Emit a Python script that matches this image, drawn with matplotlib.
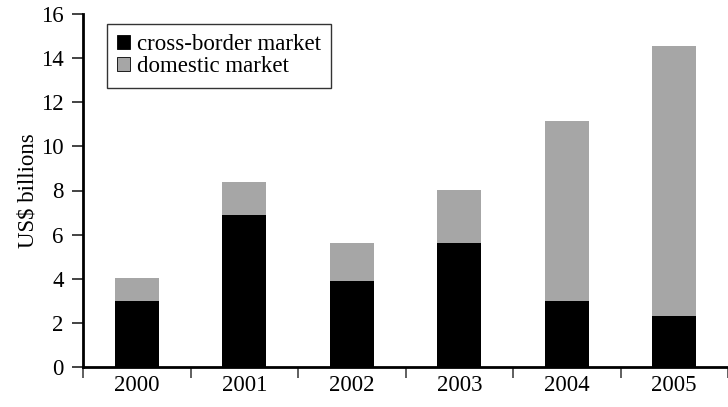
import matplotlib
matplotlib.use("Agg")
import matplotlib.pyplot as plt
import numpy as np

years = ["2000", "2001", "2002", "2003", "2004", "2005"]
cross_border = [3.0, 6.9, 3.9, 5.6, 3.0, 2.3]
domestic = [1.05, 1.5, 1.7, 2.4, 8.15, 12.25]
yticks = [0, 2, 4, 6, 8, 10, 12, 14, 16]

plt.rcParams['font.family'] = ['Liberation Serif', 'DejaVu Serif']
FS = 16.5

fig = plt.figure(figsize=(7.28, 4.07), dpi=100)
W, H = 728, 407
left, right, top, bottom = 83, 728, 14, 367
ax = fig.add_axes([left / W, (H - bottom) / H, (right - left) / W, (bottom - top) / H])

x = np.arange(len(years))
bw = 0.41
ax.bar(x, cross_border, width=bw, color="black", label="cross-border market", edgecolor="none")
ax.bar(x, domestic, width=bw, bottom=cross_border, color="#a6a6a6", label="domestic market", edgecolor="none")

unit_px = 108.3
ax.set_xlim(-0.5, -0.5 + (right - left) / unit_px)
ax.set_ylim(0, 16)

for s in ["top", "right"]:
    ax.spines[s].set_visible(False)
for s in ["left", "bottom"]:
    ax.spines[s].set_linewidth(2)
    ax.spines[s].set_color("black")

ax.set_yticks(yticks)
ax.set_yticklabels([str(v) for v in yticks], fontsize=FS)
ax.tick_params(axis="y", direction="out", length=8, width=1.2, color="#222222", pad=6)

ax.set_xticks(np.arange(-0.5, len(years) - 0.5 + 0.01, 1.0))
ax.set_xticklabels([])
ax.tick_params(axis="x", which="major", direction="out", length=8, width=1.2, color="#444444")
ax.set_xticks(x, minor=True)
ax.set_xticklabels(years, minor=True, fontsize=FS)
ax.tick_params(axis="x", which="minor", length=0, pad=6)

ax.set_ylabel("US$ billions", fontsize=FS, labelpad=2)

leg = ax.legend(loc="upper left", bbox_to_anchor=((107 - left) / (right - left), 1 - (24 - top) / (bottom - top)),
                fontsize=FS, frameon=True, fancybox=False, handlelength=0.55, handleheight=0.55,
                handletextpad=0.3, borderpad=0.45, labelspacing=0.05, borderaxespad=0)
leg.get_frame().set_edgecolor("black")
leg.get_frame().set_linewidth(1)
for h in leg.legend_handles:
    h.set_edgecolor("black")
    h.set_linewidth(0.6)

fig.savefig("out.png", dpi=100)
